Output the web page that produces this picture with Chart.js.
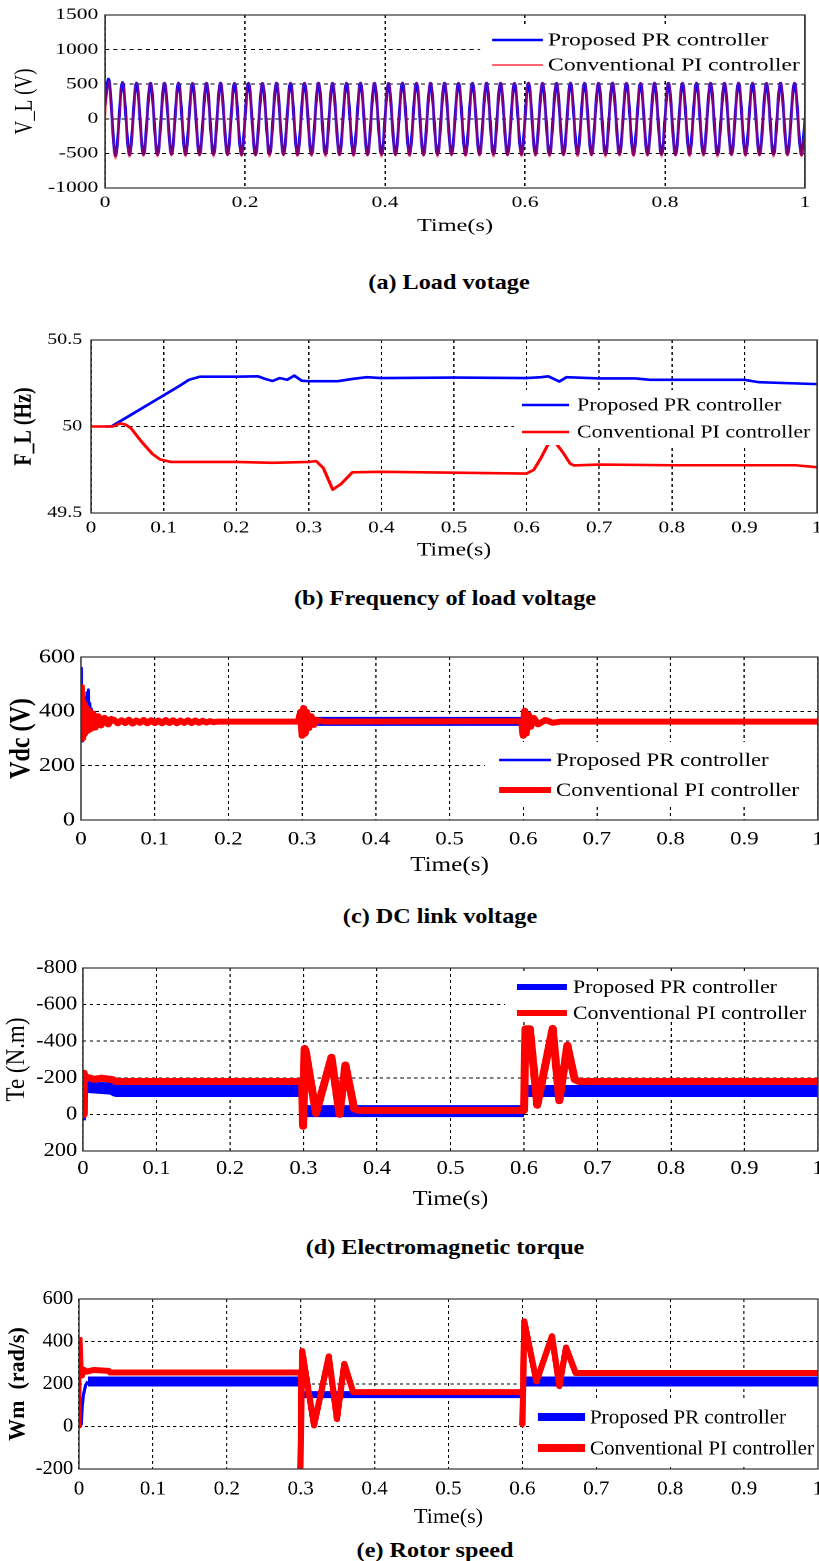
<!DOCTYPE html>
<html>
<head>
<meta charset="utf-8">
<title>PR vs PI controller responses</title>
<script src="https://cdn.jsdelivr.net/npm/chart.js@4.4.1/dist/chart.umd.min.js"></script>
<style>
  html, body { margin: 0; padding: 0; background: #fff; }
  body { position: relative; width: 819px; height: 1561px; overflow: hidden; font-family: "Liberation Serif", "Times New Roman", serif; }
  .panel { position: absolute; left: 0; transform-origin: 0 0; }
  .panel canvas { display: block; }
  .cap { position: absolute; font-weight: bold; font-size: 22px; line-height: 22px; white-space: nowrap; color: #000; transform: translateX(-50%) scaleX(1.1); }
</style>
</head>
<body>
<div class="cap" style="left:449px;top:271px">(a) Load votage</div>
<div class="cap" style="left:445px;top:587px">(b) Frequency of load voltage</div>
<div class="cap" style="left:440px;top:905px">(c) DC link voltage</div>
<div class="cap" style="left:445px;top:1236px">(d) Electromagnetic torque</div>
<div class="cap" style="left:435px;top:1539px">(e) Rotor speed</div>
<script>
var FONT = '"Liberation Serif", "Times New Roman", serif';
Chart.defaults.font.family = FONT;
Chart.defaults.color = '#000';

var seriesNames = ['Proposed PR controller', 'Conventional PI controller'];
var seriesColors = ['#0000ff', '#ff0000'];

var timeTicksA = [0, 0.2, 0.4, 0.6, 0.8, 1];
var timeTicks = [0, 0.1, 0.2, 0.3, 0.4, 0.5, 0.6, 0.7, 0.8, 0.9, 1];

// (a) load voltage, one sample per half cycle (peaks)
var vlTicks = [-1000, -500, 0, 500, 1000, 1500];
var vlTime = [0,
  .005, .015, .025, .035, .045, .055, .065, .075, .085, .095,
  .105, .115, .125, .135, .145, .155, .165, .175, .185, .195,
  .205, .215, .225, .235, .245, .255, .265, .275, .285, .295,
  .305, .315, .325, .335, .345, .355, .365, .375, .385, .395,
  .405, .415, .425, .435, .445, .455, .465, .475, .485, .495,
  .505, .515, .525, .535, .545, .555, .565, .575, .585, .595,
  .605, .615, .625, .635, .645, .655, .665, .675, .685, .695,
  .705, .715, .725, .735, .745, .755, .765, .775, .785, .795,
  .805, .815, .825, .835, .845, .855, .865, .875, .885, .895,
  .905, .915, .925, .935, .945, .955, .965, .975, .985, .995,
  1];
var vlPR = [200,
  580, -540, 530, -525, 522, -520, 519, -522, 520, -518,
  521, -520, 518, -521, 520, -519, 522, -520, 519, -521,
  520, -522, 518, -520, 521, -519, 520, -521, 519, -520,
  522, -518, 520, -521, 519, -520, 521, -522, 520, -519,
  518, -520, 521, -519, 520, -522, 519, -520, 521, -518,
  520, -521, 519, -520, 522, -519, 520, -521, 518, -520,
  521, -519, 520, -522, 519, -520, 521, -518, 520, -521,
  519, -520, 522, -519, 520, -521, 518, -520, 521, -519,
  520, -522, 519, -520, 521, -518, 520, -521, 519, -520,
  522, -519, 520, -521, 518, -520, 521, -519, 520, -522,
  0];
var vlPI = [0,
  545, -580, 525, -555, 520, -545, 518, -550, 521, -538,
  519, -548, 522, -540, 520, -552, 518, -536, 521, -546,
  520, -541, 519, -553, 522, -538, 520, -547, 518, -542,
  521, -550, 519, -537, 520, -549, 522, -541, 519, -552,
  520, -539, 518, -548, 521, -543, 520, -551, 519, -537,
  522, -546, 520, -540, 518, -553, 521, -538, 520, -547,
  519, -542, 521, -550, 520, -536, 522, -548, 518, -541,
  520, -552, 519, -539, 521, -547, 520, -543, 522, -550,
  518, -538, 520, -549, 521, -542, 519, -551, 520, -537,
  521, -546, 520, -540, 522, -553, 519, -539, 520, -548,
  0];

// (b) frequency of load voltage
var flTicks = [49.5, 50, 50.5];
var flTimePR = [.02, .028, .04, .06, .08, .1, .12, .135, .15, .2, .23, .24, .25, .26, .27, .28, .29, .3, .34, .36,
  .38, .4, .5, .6, .62, .63, .645, .655, .7, .75, .77, .9, .92, 1];
var flPR = [50, 50, 50.03, 50.08, 50.13, 50.18, 50.23, 50.27, 50.288, 50.288, 50.29, 50.275, 50.263, 50.28, 50.27, 50.294, 50.265, 50.262, 50.262, 50.275,
  50.285, 50.28, 50.283, 50.28, 50.285, 50.29, 50.26, 50.285, 50.278, 50.278, 50.27, 50.27, 50.256, 50.245];
var flTimePI = [0, .03, .04, .048, .055, .07, .085, .095, .11, .2, .25, .3, .31, .32, .333, .345, .36, .4, .5, .6,
  .61, .62, .63, .64, .65, .66, .665, .7, .8, .9, .97, 1];
var flPI = [50, 50, 50.018, 50.01, 49.99, 49.91, 49.84, 49.81, 49.795, 49.795, 49.79, 49.795, 49.8, 49.76, 49.635, 49.67, 49.735, 49.738, 49.733, 49.728,
  49.75, 49.82, 49.9, 49.905, 49.85, 49.785, 49.775, 49.78, 49.776, 49.776, 49.776, 49.765];

// (c) DC link voltage
var vdcTicks = [0, 200, 400, 600];
var vdcTimePR = [0, .0004, .001, .002, .003, .004, .005, .006, .007, .008, .009, .010, .011, .012, .013, .014, .016, .02, .025, .03,
  .3, .305, .31, .6, .605, 1];
var vdcPR = [360, 560, 290, 470, 300, 450, 310, 440, 320, 470, 330, 480, 340, 430, 330, 410, 345, 375, 355, 362,
  362, 364, 363, 363, 362, 362];
var vdcTimePI = [0, .0005, .001, .002, .003, .004, .005, .007, .009, .011, .013, .016, .019, .023, .027, .032, .037, .041,
  .045, .05, .055, .06, .065, .07, .075, .08, .085, .09, .095, .1, .105, .11, .115, .12, .125, .13, .135, .14,
  .145, .15, .155, .16, .165, .17, .175, .18,
  .185, .2, .295, .298, .3, .302, .304, .306, .309, .312, .316, .32, .33, .598, .6, .602, .604, .607, .61, .614,
  .62, .63, .64, .65, 1];
var vdcPI = [360, 490, 300, 440, 310, 425, 318, 412, 328, 402, 335, 392, 340, 382, 348, 376, 352, 372,
  368, 356, 367, 357, 369, 355, 366, 358, 368, 356, 367, 357, 366, 356, 368, 357, 367, 356, 366, 358,
  367, 357, 366, 358, 365, 359, 364, 360,
  362, 362, 362, 398, 310, 412, 318, 398, 338, 382, 350, 368, 362, 364, 310, 402, 318, 388, 343, 376,
  352, 368, 358, 362, 362];

// (d) electromagnetic torque (axis drawn reversed)
var teTicks = [-800, -600, -400, -200, 0, 200];
var teTimePR = [0, .004, .0045, .04, .045, .3, .302, .6, .6015, 1];
var tePR = [0, 0, -150, -140, -128, -128, -18, -18, -128, -128];
var teTimePI = [0, .001, .003, .008, .015, .025, .04, .045, .298, .2995, .3015, .303, .317, .338, .349, .357, .369, .375, .6, .602,
  .608, .618, .639, .648, .659, .669, .675, 1];
var tePI = [0, -225, -195, -200, -192, -198, -190, -180, -180, 65, -360, -345, -5, -312, 0, -270, -30, -22, -22, -468,
  -468, -50, -470, -75, -378, -190, -180, -180];

// (e) rotor speed
var wmTicks = [-200, 0, 200, 400, 600];
var wmTimePR = [0, .003, .0045, .006, .009, .012, .3, .3005, .6, .6005, 1];
var wmPR = [0, 10, 100, 150, 195, 212, 212, 150, 150, 212, 212];
var wmTimePI = [0, .0005, .002, .004, .006, .01, .02, .04, .042, .299, .2995, .302, .318, .338, .349, .359, .371, .5995, .6, .6025,
  .619, .64, .65, .659, .672, 1];
var wmPI = [0, 420, 262, 240, 268, 258, 266, 262, 254, 254, -215, 355, 5, 330, 35, 295, 162, 162, 5, 495,
  212, 425, 190, 372, 252, 252];

function pts(xs, ys) {
  return xs.map(function (x, i) { return { x: x, y: ys[i] }; });
}
function fmt(v) {
  return String(Math.round(v * 1000) / 1000);
}
function gap(times, ctx) {
  return times[ctx.p1DataIndex] - times[ctx.p0DataIndex];
}

// box round the axes + legend inside the plot
var framePlugin = {
  id: 'panelFrame',
  afterDraw: function (chart, args, o) {
    var ctx = chart.ctx, a = chart.chartArea, L = o.legend;
    ctx.save();
    ctx.fillStyle = '#fff';
    ctx.fillRect(L.box[0] / o.sx, L.box[1] - o.oy, L.box[2] / o.sx, L.box[3]);
    chart.data.datasets.forEach(function (ds, i) {
      var y = L.rows[i] - o.oy;
      ctx.strokeStyle = L.colors ? L.colors[i] : ds.borderColor;
      ctx.lineWidth = L.widths[i];
      ctx.lineCap = 'butt';
      ctx.beginPath();
      ctx.moveTo(L.line[0] / o.sx, y);
      ctx.lineTo(L.line[1] / o.sx, y);
      ctx.stroke();
      ctx.fillStyle = '#000';
      ctx.font = L.size + 'px ' + FONT;
      ctx.textBaseline = 'middle';
      ctx.textAlign = 'left';
      ctx.fillText(ds.label, L.textX / o.sx, y + 1);
    });
    ctx.strokeStyle = '#333';
    ctx.lineWidth = 1.2;
    ctx.strokeRect(a.left, a.top, a.right - a.left, a.bottom - a.top);
    ctx.restore();
  }
};

function makePanel(p) {
  var cw = Math.round(819 / p.stretch);
  var sx = 819 / cw;
  var padTop = 14;
  var oy = p.top - padTop;
  var ch = padTop + (p.bottom - p.top) + p.xh;

  var wrap = document.createElement('div');
  wrap.className = 'panel';
  wrap.style.top = oy + 'px';
  wrap.style.transform = 'scaleX(' + sx + ')';
  var cv = document.createElement('canvas');
  cv.width = cw;
  cv.height = ch;
  wrap.appendChild(cv);
  document.body.appendChild(wrap);

  new Chart(cv, {
    type: 'line',
    data: { datasets: p.datasets },
    options: {
      responsive: false,
      animation: false,
      devicePixelRatio: 2,
      events: [],
      layout: { padding: { left: 0, top: padTop, right: cw - p.right / sx, bottom: 0 } },
      elements: { point: { radius: 0 }, line: { tension: 0, borderJoinStyle: 'round', borderCapStyle: 'butt' } },
      plugins: {
        legend: { display: false },
        tooltip: { enabled: false },
        panelFrame: { sx: sx, oy: oy, legend: p.legend }
      },
      scales: {
        x: {
          type: 'linear', min: 0, max: 1,
          afterBuildTicks: function (s) { s.ticks = p.xTicks.map(function (v) { return { value: v }; }); },
          afterFit: function (s) { s.height = p.xh; s.paddingLeft = 0; s.paddingRight = 0; },
          ticks: { autoSkip: false, maxRotation: 0, padding: p.xPad, color: '#000', font: { size: p.xTickSize }, callback: fmt },
          grid: { color: '#000', lineWidth: 1, drawTicks: false },
          border: { display: false, dash: [3, 3] },
          title: { display: true, text: 'Time(s)', color: '#000', font: { size: p.xTitleSize }, padding: 0 }
        },
        y: {
          type: 'linear',
          min: Math.min.apply(null, p.yTicks),
          max: Math.max.apply(null, p.yTicks),
          reverse: !!p.reverse,
          afterBuildTicks: function (s) { s.ticks = p.yTicks.map(function (v) { return { value: v }; }); },
          afterFit: function (s) { s.width = p.left / sx; s.paddingTop = 0; s.paddingBottom = 0; },
          ticks: { autoSkip: false, padding: p.yPad, color: '#000', font: { size: p.yTickSize }, callback: fmt },
          grid: { color: '#000', lineWidth: 1, drawTicks: false },
          border: { display: false, dash: [3, 3] },
          title: {
            display: true, text: p.yTitle, color: '#000',
            font: { size: p.yTitleSize, weight: p.yTitleBold ? 'bold' : 'normal' },
            padding: { top: p.yTitleX / sx - 0.6 * p.yTitleSize, bottom: 0 }
          }
        }
      }
    },
    plugins: [framePlugin]
  });
}

// (a)
makePanel({
  stretch: 1.35, top: 15, bottom: 188, left: 105, right: 805, xh: 49,
  xTicks: timeTicksA, yTicks: vlTicks,
  xTickSize: 16, yTickSize: 16, xPad: 5, yPad: 5, xTitleSize: 18,
  yTitle: 'V_L (V)', yTitleSize: 19, yTitleBold: false, yTitleX: 25,
  legend: { box: [480, 24, 325, 54], rows: [40, 65], line: [492, 543], textX: 548, size: 17.5, widths: [2.5, 1.5],
            colors: ['#0000ff', '#ff3344'] },
  datasets: [
    { label: seriesNames[0], data: pts(vlTime, vlPR), borderColor: seriesColors[0], borderWidth: 2.2, cubicInterpolationMode: 'monotone', order: 1 },
    { label: seriesNames[1], data: pts(vlTime, vlPI), borderColor: 'rgba(255, 0, 0, 0.55)', borderWidth: 1.4, cubicInterpolationMode: 'monotone', order: 0 }
  ]
});

// (b)
makePanel({
  stretch: 1.25, top: 340, bottom: 513, left: 91, right: 817, xh: 49,
  xTicks: timeTicks, yTicks: flTicks,
  xTickSize: 17, yTickSize: 16, xPad: 5, yPad: 7, xTitleSize: 19,
  yTitle: 'F_L (Hz)', yTitleSize: 20, yTitleBold: true, yTitleX: 24,
  legend: { box: [514, 390, 303, 55], rows: [405, 432], line: [522, 569], textX: 577, size: 17.5, widths: [2.5, 2.5] },
  datasets: [
    { label: seriesNames[0], data: pts(flTimePR, flPR), borderColor: seriesColors[0], borderWidth: 2.6, order: 1 },
    { label: seriesNames[1], data: pts(flTimePI, flPI), borderColor: seriesColors[1], borderWidth: 2.6, order: 0 }
  ]
});

// (c)
makePanel({
  stretch: 1.2, top: 657, bottom: 820, left: 81, right: 818, xh: 58,
  xTicks: timeTicks, yTicks: vdcTicks,
  xTickSize: 19, yTickSize: 20, xPad: 8, yPad: 5, xTitleSize: 21,
  yTitle: 'Vdc (V)', yTitleSize: 24, yTitleBold: true, yTitleX: 22,
  legend: { box: [485, 742, 332, 64], rows: [760, 790], line: [499, 551], textX: 556, size: 19, widths: [2.5, 6] },
  datasets: [
    { label: seriesNames[0], data: pts(vdcTimePR, vdcPR), borderColor: seriesColors[0], borderWidth: 2.5, order: 1,
      segment: { borderWidth: function (c) { var t0 = vdcTimePR[c.p0DataIndex], t1 = vdcTimePR[c.p1DataIndex]; return (t0 >= 0.31 && t1 <= 0.6) ? 9 : 2.5; } } },
    { label: seriesNames[1], data: pts(vdcTimePI, vdcPI), borderColor: seriesColors[1], borderWidth: 6, order: 0 }
  ]
});

// (d)
makePanel({
  stretch: 1.15, top: 968, bottom: 1151, left: 83, right: 818, xh: 61,
  xTicks: timeTicks, yTicks: teTicks, reverse: true,
  xTickSize: 19.5, yTickSize: 19.5, xPad: 6, yPad: 5, xTitleSize: 21,
  yTitle: 'Te (N.m)', yTitleSize: 23, yTitleBold: false, yTitleX: 17,
  legend: { box: [505, 972, 312, 50], rows: [987, 1013], line: [517, 567], textX: 573, size: 19, widths: [6, 6] },
  datasets: [
    { label: seriesNames[0], data: pts(teTimePR, tePR), borderColor: seriesColors[0], borderWidth: 12, order: 1,
      segment: { borderWidth: function (c) { return gap(teTimePR, c) < 0.003 ? 3 : 12; } } },
    { label: seriesNames[1], data: pts(teTimePI, tePI), borderColor: seriesColors[1], borderWidth: 7, order: 0,
      segment: { borderWidth: function (c) { return gap(teTimePI, c) < 0.001 ? 4 : 7; } } }
  ]
});

// (e)
makePanel({
  stretch: 1.05, top: 1299, bottom: 1469, left: 79, right: 818, xh: 61,
  xTicks: timeTicks, yTicks: wmTicks,
  xTickSize: 20, yTickSize: 19.5, xPad: 8, yPad: 5.5, xTitleSize: 21,
  yTitle: 'Wm  (rad/s)', yTitleSize: 22, yTitleBold: true, yTitleX: 18,
  legend: { box: [530, 1400, 287, 66], rows: [1417, 1448], line: [538, 585], textX: 590, size: 20, widths: [8, 8] },
  datasets: [
    { label: seriesNames[0], data: pts(wmTimePR, wmPR), borderColor: seriesColors[0], borderWidth: 10, order: 1,
      segment: { borderWidth: function (c) {
        var t0 = wmTimePR[c.p0DataIndex], t1 = wmTimePR[c.p1DataIndex];
        if (t1 - t0 < 0.004) return 3;
        return (t0 >= 0.3 && t1 <= 0.6) ? 7 : 10;
      } } },
    { label: seriesNames[1], data: pts(wmTimePI, wmPI), borderColor: seriesColors[1], borderWidth: 6, order: 0,
      segment: { borderWidth: function (c) { return gap(wmTimePI, c) < 0.001 ? 4 : 6; } } }
  ]
});
</script>
</body>
</html>
